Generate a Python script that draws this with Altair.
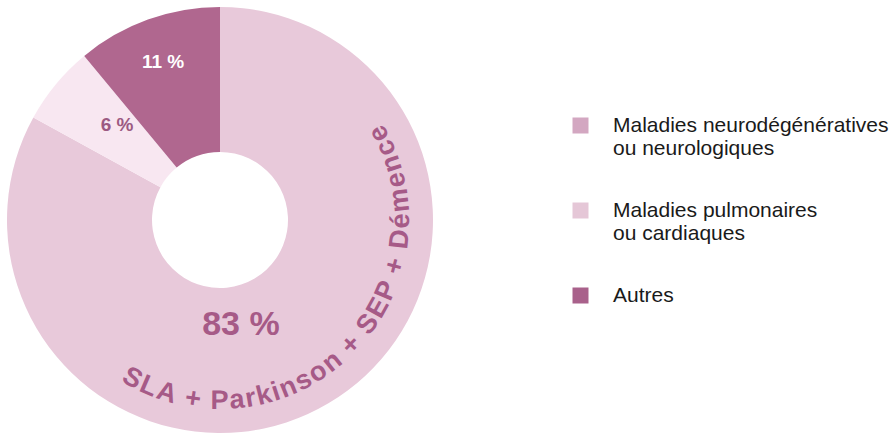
import math
import altair as alt
import pandas as pd

# ---- data ----
categories = [
    "Maladies neurodégénératives\nou neurologiques",
    "Maladies pulmonaires\nou cardiaques",
    "Autres",
]
values = [83, 6, 11]
slice_labels = ["83 %", "6 %", "11 %"]
arc_text = "SLA + Parkinson + SEP + Démence"

slice_colors = ["#E8C9DA", "#F8E7F1", "#B0678F"]
legend_colors = ["#D3A7C1", "#E5C7D7", "#A9618B"]
text_pink = "#A65A87"
FONT = "Liberation Sans"

CX, CY = 220, 220

df = pd.DataFrame({
    "idx": list(range(len(categories))),
    "cat": categories,
    "value": values,
    "lbl": slice_labels,
})

# ---- curved text layout (Arial bold advance widths, per 1000 em) ----
W = {"S": 667, "L": 611, "A": 722, " ": 278, "+": 584, "P": 667, "a": 556,
     "r": 389, "k": 556, "i": 278, "n": 611, "s": 556, "o": 611, "E": 667,
     "D": 722, "é": 556, "m": 889, "e": 556, "c": 556}
extra = 30
centers = []
pos = 0.0
for ch in arc_text:
    w = W.get(ch, 556)
    centers.append(pos + w / 2)
    pos += w + extra
start_deg, end_deg = 209.0, 61.5
c0, c1 = centers[0], centers[-1]
rows = []
for ch, c in zip(arc_text, centers):
    if ch == " ":
        continue
    deg = start_deg + (c - c0) / (c1 - c0) * (end_deg - start_deg)
    rows.append({"ch": ch, "tp": deg / 360 * 100, "rot": (deg - 180) % 360})
chars = pd.DataFrame(rows)

theta_scale = alt.Scale(domain=[0, 100], range=[0, 2 * math.pi])

base = alt.Chart(df)

arc = base.mark_arc(radius=213, innerRadius=68, strokeWidth=0).encode(
    theta=alt.Theta("value:Q", stack=True, scale=theta_scale),
    order=alt.Order("idx:Q"),
    fill=alt.Fill("lbl:N", scale=alt.Scale(domain=slice_labels, range=slice_colors), legend=None),
    x=alt.value(CX),
    y=alt.value(CY),
)

legend_layer = base.mark_square(size=256, opacity=0).encode(
    color=alt.Color(
        "cat:N",
        scale=alt.Scale(domain=categories, range=legend_colors),
        legend=alt.Legend(
            title=None,
            orient="none",
            legendX=570,
            legendY=115,
            padding=0,
            symbolType="square",
            symbolSize=256,
            symbolStrokeWidth=0,
            symbolOpacity=1,
            labelFont=FONT,
            labelFontSize=21,
            labelColor="#1a1a1a",
            labelOffset=22,
            labelLimit=400,
            rowPadding=40,
            labelExpr="split(datum.label, '\\n')",
        ),
    ),
    x=alt.value(CX),
    y=alt.value(CY),
)

lab = base.transform_window(
    cum="sum(value)", sort=[alt.SortField("idx")], frame=[None, 0]
).transform_calculate(mid="datum.cum - datum.value / 2")


def label_layer(i, radius, size, color, **kw):
    return lab.transform_filter(alt.datum.idx == i).mark_text(
        radius=radius, fontSize=size, fontWeight="bold", color=color,
        font=FONT, align="center", baseline="middle", **kw
    ).encode(
        theta=alt.Theta("mid:Q", scale=theta_scale, stack=None),
        text="lbl:N",
        x=alt.value(CX),
        y=alt.value(CY),
    )


lab83 = label_layer(0, 107, 34, text_pink, thetaOffset=0.337)
lab6 = label_layer(1, 140, 19, "#9C5A82", thetaOffset=0.054)
lab11 = label_layer(2, 168, 19, "white")

curved = alt.Chart(chars).mark_text(
    radius=181, fontSize=27, fontWeight="bold", color=text_pink, font=FONT,
    align="center", baseline="middle",
).encode(
    theta=alt.Theta("tp:Q", scale=theta_scale, stack=None),
    angle=alt.Angle("rot:Q", scale=None),
    text="ch:N",
    x=alt.value(CX),
    y=alt.value(CY),
)

chart = alt.layer(arc, legend_layer, lab83, lab6, lab11, curved).properties(
    width=894, height=433, padding=0, autosize="none", background="white"
).configure_view(stroke=None)

chart.save("out.html", embed_options={"renderer": "svg", "actions": False})
